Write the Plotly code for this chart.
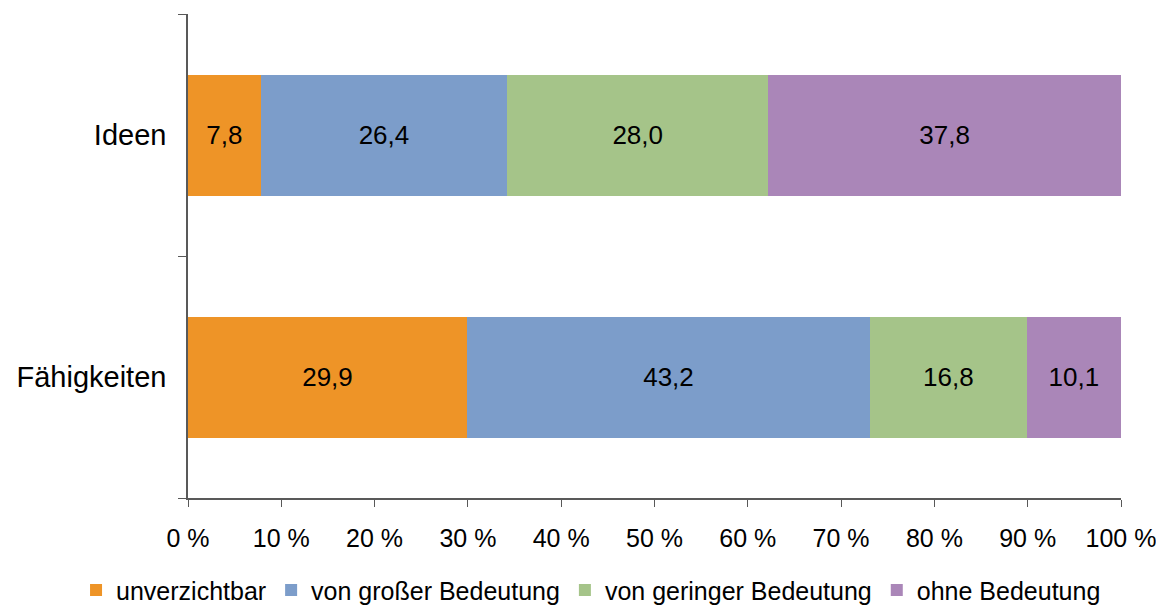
import plotly.graph_objects as go

categories = ["Fähigkeiten", "Ideen"]
series_names = [
    "unverzichtbar",
    "von großer Bedeutung",
    "von geringer Bedeutung",
    "ohne Bedeutung",
]
values_faehigkeiten = [29.9, 43.2, 16.8, 10.1]
values_ideen = [7.8, 26.4, 28.0, 37.8]
x_ticks = list(range(0, 101, 10))
x_tick_labels = [f"{v} %" for v in x_ticks]

COLORS = ["#EE9427", "#7C9DCA", "#A5C489", "#AA86B8"]
AXIS_COLOR = "#595959"
FONT = "Liberation Sans, Arial, sans-serif"

# the page body has an 8px margin, so the figure is shrunk and shifted by it
fig = go.Figure()
for i, name in enumerate(series_names):
    vals = [values_faehigkeiten[i], values_ideen[i]]
    fig.add_trace(
        go.Bar(
            y=categories,
            x=vals,
            name=name,
            orientation="h",
            marker=dict(color=COLORS[i], line_width=0),
            width=0.5,
            texttemplate="%{x:.1f}",
            textposition="inside",
            insidetextanchor="middle",
            textangle=0,
            textfont=dict(size=26, color="black", family=FONT),
        )
    )

fig.update_layout(
    width=1156,
    height=597,
    barmode="stack",
    separators=",.",
    plot_bgcolor="white",
    paper_bgcolor="white",
    font=dict(family=FONT, color="black", size=25),
    margin=dict(l=180, r=43, t=6, b=107, autoexpand=False),
    legend=dict(
        orientation="h",
        x=-0.12,
        xanchor="left",
        y=-0.143,
        yanchor="top",
        font=dict(size=25),
        traceorder="normal",
        itemwidth=30,
        bgcolor="rgba(0,0,0,0)",
    ),
)

fig.update_xaxes(
    range=[0, 100],
    tickvals=x_ticks,
    ticktext=x_tick_labels,
    showgrid=False,
    zeroline=False,
    showline=True,
    linecolor=AXIS_COLOR,
    linewidth=1.5,
    ticks="outside",
    ticklen=7,
    tickcolor=AXIS_COLOR,
    tickfont=dict(size=25),
    ticklabelstandoff=10,
)
fig.update_yaxes(
    range=[-0.5, 1.5],
    showgrid=False,
    showline=True,
    linecolor=AXIS_COLOR,
    linewidth=1.5,
    ticks="outside",
    tickson="boundaries",
    ticklen=8,
    tickcolor=AXIS_COLOR,
    tickfont=dict(size=29),
    ticklabelstandoff=14,
)

fig.write_html("out.html")
